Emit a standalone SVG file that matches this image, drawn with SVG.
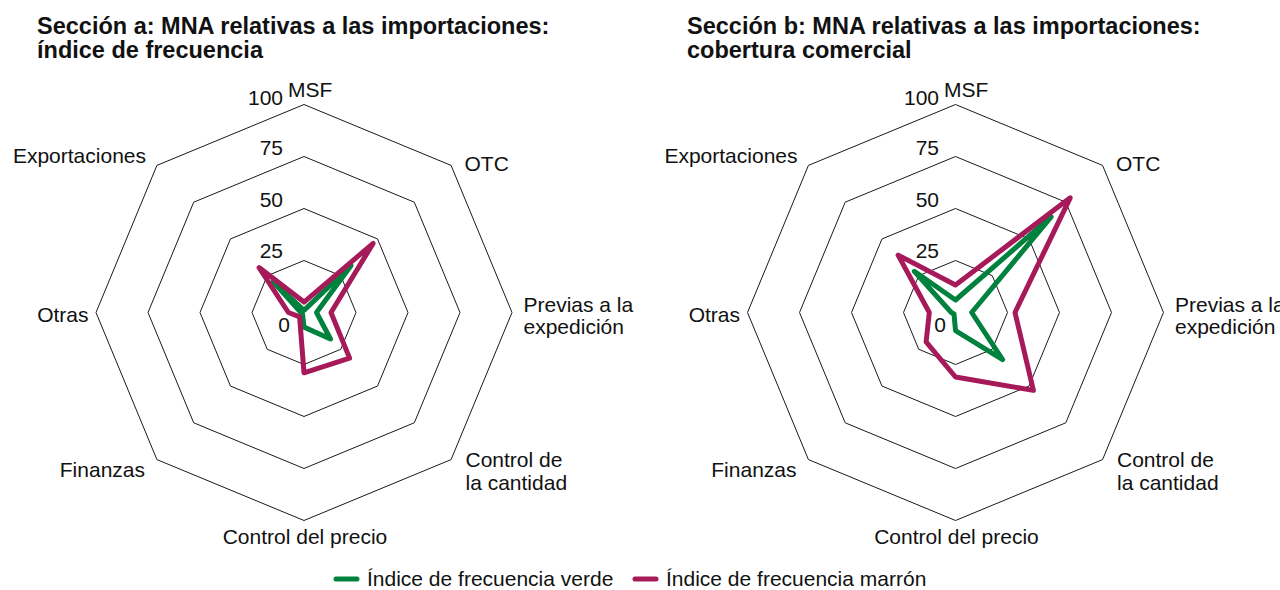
<svg xmlns="http://www.w3.org/2000/svg" xmlns:xlink="http://www.w3.org/1999/xlink" width="1280" height="590" viewBox="0 0 1280 590">
<style>
.title{font-family:"Liberation Sans",Arial,sans-serif;font-weight:bold;font-size:23.5px;fill:#111}
.lbl{font-family:"Liberation Sans",Arial,sans-serif;font-size:21px;fill:#111}
.ring{fill:none;stroke:#1a1a1a;stroke-width:1}
.green{fill:none;stroke:#00813d;stroke-width:5;stroke-linejoin:round;stroke-linecap:round}
.mag{fill:none;stroke:#a61a5a;stroke-width:5;stroke-linejoin:round;stroke-linecap:round}
</style>
<defs>
<g id="grid">
<polygon class="ring" points="0,-52 36.77,-36.77 52,0 36.77,36.77 0,52 -36.77,36.77 -52,0 -36.77,-36.77"/>
<polygon class="ring" points="0,-104 73.54,-73.54 104,0 73.54,73.54 0,104 -73.54,73.54 -104,0 -73.54,-73.54"/>
<polygon class="ring" points="0,-156 110.31,-110.31 156,0 110.31,110.31 0,156 -110.31,110.31 -156,0 -110.31,-110.31"/>
<polygon class="ring" points="0,-208 147.08,-147.08 208,0 147.08,147.08 0,208 -147.08,147.08 -208,0 -147.08,-147.08"/>
</g>
<g id="ticks">
<text class="lbl" x="-21" y="-207.5" text-anchor="end">100</text>
<text class="lbl" x="-21" y="-157.5" text-anchor="end">75</text>
<text class="lbl" x="-21" y="-106" text-anchor="end">50</text>
<text class="lbl" x="-21" y="-55" text-anchor="end">25</text>
<text class="lbl" x="-14" y="19" text-anchor="end">0</text>
<text class="lbl" x="-16" y="-216">MSF</text>
</g>
<g id="labels">
<text class="lbl" x="160.5" y="-142">OTC</text>
<text class="lbl" x="219.5" y="-0.5">Previas a la</text>
<text class="lbl" x="219.5" y="21.5">expedición</text>
<text class="lbl" x="161.5" y="154">Control de</text>
<text class="lbl" x="161.5" y="177.5">la cantidad</text>
<text class="lbl" x="1" y="231.5" text-anchor="middle">Control del precio</text>
<text class="lbl" x="-159" y="164" text-anchor="end">Finanzas</text>
<text class="lbl" x="-215.5" y="9.5" text-anchor="end">Otras</text>
<text class="lbl" x="-158" y="-149.5" text-anchor="end">Exportaciones</text>
</g>
</defs>

<g id="titles">
<text class="title" x="37" y="34">Sección a: MNA relativas a las importaciones:</text>
<text class="title" x="37" y="58">índice de frecuencia</text>
<text class="title" x="687" y="34">Sección b: MNA relativas a las importaciones:</text>
<text class="title" x="687" y="58">cobertura comercial</text>
</g>

<g id="chart-a" transform="translate(304,312.5)">
<use xlink:href="#grid" href="#grid"/>
<use xlink:href="#ticks" href="#ticks"/>
<use xlink:href="#labels" href="#labels"/>
<polygon id="a-verde" class="green" points="0,-2.1 47.1,-47.1 12.5,0 26.5,26.5 0,14.6 -1.5,1.5 -3.1,0 -30.9,-30.9"/>
<polygon id="a-marron" class="mag" points="0,-10.4 69.1,-69.1 27,0 45.6,45.6 0,60.3 -4.4,4.4 -15.6,0 -44.9,-44.9"/>
</g>

<g id="chart-b" transform="translate(955.5,312.5)">
<use xlink:href="#grid" href="#grid"/>
<use xlink:href="#ticks" href="#ticks" x="4.5"/>
<use xlink:href="#labels" href="#labels"/>
<polygon id="b-verde" class="green" points="0,-12.5 95.6,-95.6 16.2,0 47.1,47.1 0,18.1 -1.5,1.5 -4.2,0 -41.2,-41.2"/>
<polygon id="b-marron" class="mag" points="0,-27.5 114.7,-114.7 59.5,0 77.9,77.9 0,64.5 -29.4,29.4 -26.2,0 -57.4,-57.4"/>
</g>

<g id="legend">
<line class="green" x1="336" y1="579" x2="357" y2="579"/>
<text class="lbl" x="367" y="586">Índice de frecuencia verde</text>
<line class="mag" x1="635" y1="579" x2="656" y2="579"/>
<text class="lbl" x="666" y="586">Índice de frecuencia marrón</text>
</g>
</svg>
